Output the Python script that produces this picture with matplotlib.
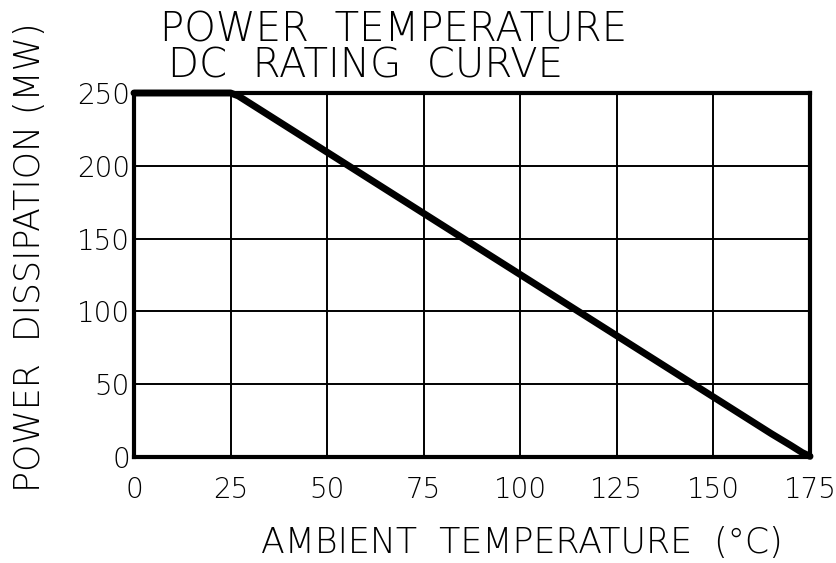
import matplotlib.pyplot as plt
import numpy as np

# derating curve
temp = [0, 25, 27, 165, 170, 173, 175]
power = [250, 250, 248, 16, 8, 3, 0.5]

xticks = [0, 25, 50, 75, 100, 125, 150, 175]
yticks = [0, 50, 100, 150, 200, 250]

plt.rcParams['font.family'] = ['DejaVu Sans']

fig = plt.figure(figsize=(8.37, 5.63), dpi=100)
ax = fig.add_axes([134/837, 1-457/563, (810-134)/837, (457-93)/563])

ax.plot(temp, power, color='black', lw=5, solid_capstyle='round',
        solid_joinstyle='round', zorder=3, clip_on=False)

ax.set_xlim(0, 175)
ax.set_ylim(0, 250)
ax.set_xticks(xticks)
ax.set_yticks(yticks)
ax.set_xticklabels([str(t) for t in xticks], fontsize=20, fontweight='light')
ax.set_yticklabels([str(t) for t in yticks], fontsize=20, fontweight='light')
ax.tick_params(length=0, pad=14)
ax.tick_params(axis='y', pad=3)
ax.grid(True, color='black', lw=1.4)
for s in ax.spines.values():
    s.set_linewidth(3)

fig.text(160/837, 1-30/563, 'POWER  TEMPERATURE', fontsize=29, fontweight='light', va='center', ha='left')
fig.text(168/837, 1-66/563, 'DC  RATING  CURVE', fontsize=29, fontweight='light', va='center', ha='left')
fig.text(30/837, 1-257/563, 'POWER  DISSIPATION (MW)', fontsize=25, fontweight='light',
         rotation=90, va='center', ha='center')
fig.text(522/837, 1-543/563, 'AMBIENT  TEMPERATURE  (°C)', fontsize=25, fontweight='light',
         va='center', ha='center')

fig.savefig('out.png', dpi=100)
